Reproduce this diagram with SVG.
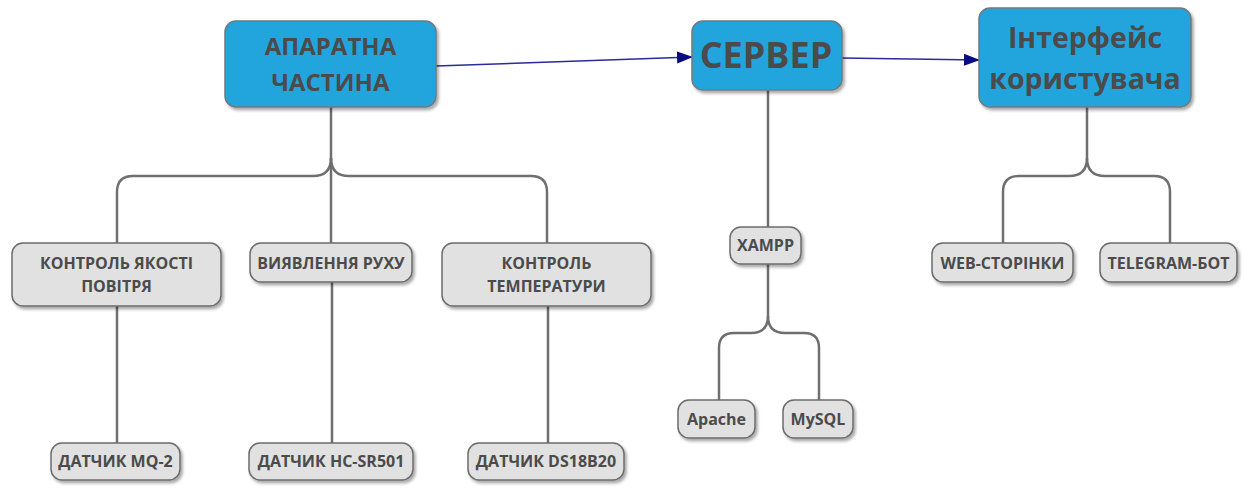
<svg xmlns="http://www.w3.org/2000/svg" width="1248" height="495" viewBox="0 0 1248 495">
<defs>
<style>
.main{fill:#21a5dd;stroke:#6f7a80;stroke-width:1.5;filter:url(#sh)}
.sub{fill:#e1e1e1;stroke:#6c6c6c;stroke-width:1.5;filter:url(#sh)}
.tb{font-family:"Open Sans","DejaVu Sans",sans-serif;font-weight:bold;fill:#4b4b4b;text-anchor:middle}
.ts{font-family:"Open Sans","DejaVu Sans",sans-serif;font-weight:bold;fill:#4b4b4b;text-anchor:middle;font-size:16px}
.tree{fill:none;stroke:#6f6f6f;stroke-width:2.5}
.arr{fill:none;stroke:#2b2b9a;stroke-width:1.5;marker-end:url(#ah)}
</style>
<filter id="sh" x="-10%" y="-10%" width="130%" height="140%">
<feDropShadow dx="2" dy="2.5" stdDeviation="1.5" flood-color="#000" flood-opacity="0.35"/>
</filter>
<marker id="ah" markerWidth="16" markerHeight="12" refX="15" refY="6" orient="auto" markerUnits="userSpaceOnUse">
<path d="M0,0 L16,6 L0,12 Z" fill="#0a0a85"/>
</marker>
</defs>
<g id="connectors">
<path class="tree" d="M331,107 V158 Q331,176 313,176 H133 Q117,176 117,192 V243"/>
<path class="tree" d="M331,158 Q331,176 349,176 H531 Q547,176 547,192 V243"/>
<path class="tree" d="M331,158 V243"/>
<path class="tree" d="M117,306 V443"/>
<path class="tree" d="M332,282 V443"/>
<path class="tree" d="M548,306 V443"/>
<path class="tree" d="M768,90 V227"/>
<path class="tree" d="M768,264 V316 Q768,333 751,333 H734 Q719,333 719,348 V400"/>
<path class="tree" d="M768,316 Q768,333 785,333 H804 Q819,333 819,348 V400"/>
<path class="tree" d="M1087,107 V158 Q1087,176 1069,176 H1019 Q1003,176 1003,192 V243"/>
<path class="tree" d="M1087,158 Q1087,176 1105,176 H1154 Q1170,176 1170,192 V243"/>
<path class="arr" d="M436,66 L692,57"/>
<path class="arr" d="M842,58 L979,60"/>
</g>
<g id="n-hardware"><rect class="main" x="225" y="21" width="211" height="86" rx="11"/><text class="tb" font-size="24" x="330.5" y="55">АПАРАТНА</text><text class="tb" font-size="24" x="330.5" y="91">ЧАСТИНА</text></g>
<g id="n-server"><rect class="main" x="692" y="21" width="150" height="69" rx="11"/><text class="tb" font-size="36" x="766" y="68">СЕРВЕР</text></g>
<g id="n-ui"><rect class="main" x="979" y="8" width="212" height="99" rx="11"/><text class="tb" font-size="28.5" x="1085" y="48">Інтерфейс</text><text class="tb" font-size="28.5" x="1085" y="89">користувача</text></g>
<g id="n-air"><rect class="sub" x="12" y="243" width="209" height="63" rx="11"/><text class="ts" x="116.5" y="269">КОНТРОЛЬ ЯКОСТІ</text><text class="ts" x="116.5" y="292">ПОВІТРЯ</text></g>
<g id="n-motion"><rect class="sub" x="250" y="243" width="162" height="39" rx="11"/><text class="ts" x="331" y="269">ВИЯВЛЕННЯ РУХУ</text></g>
<g id="n-temp"><rect class="sub" x="442" y="243" width="209" height="63" rx="11"/><text class="ts" x="546.5" y="269">КОНТРОЛЬ</text><text class="ts" x="546.5" y="292">ТЕМПЕРАТУРИ</text></g>
<g id="n-xampp"><rect class="sub" x="730" y="227" width="71" height="37" rx="11"/><text class="ts" x="765.5" y="251">XAMPP</text></g>
<g id="n-web"><rect class="sub" x="932" y="243" width="141" height="39" rx="11"/><text class="ts" x="1002.5" y="269">WEB-СТОРІНКИ</text></g>
<g id="n-tg"><rect class="sub" x="1100" y="243" width="137" height="39" rx="11"/><text class="ts" x="1168.5" y="269">TELEGRAM-БОТ</text></g>
<g id="n-mq2"><rect class="sub" x="51" y="443" width="129" height="37" rx="11"/><text class="ts" x="115.5" y="467">ДАТЧИК MQ-2</text></g>
<g id="n-hc"><rect class="sub" x="249" y="443" width="164" height="37" rx="11"/><text class="ts" x="331" y="467">ДАТЧИК HC-SR501</text></g>
<g id="n-ds"><rect class="sub" x="468" y="443" width="156" height="37" rx="11"/><text class="ts" x="546" y="467">ДАТЧИК DS18B20</text></g>
<g id="n-apache"><rect class="sub" x="678" y="400" width="77" height="38" rx="11"/><text class="ts" x="716.5" y="425">Apache</text></g>
<g id="n-mysql"><rect class="sub" x="783" y="400" width="70" height="38" rx="11"/><text class="ts" x="818" y="425">MySQL</text></g>
</svg>
